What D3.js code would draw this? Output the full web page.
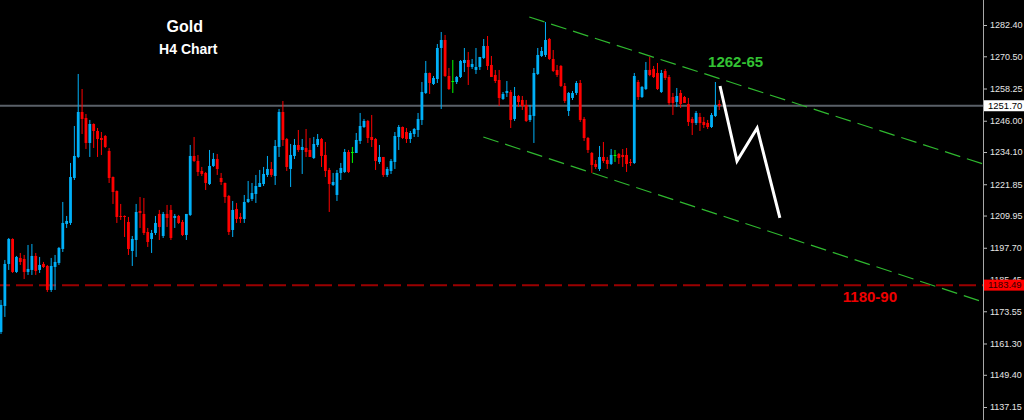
<!DOCTYPE html>
<html><head><meta charset="utf-8">
<script src="https://cdn.jsdelivr.net/npm/d3@7"></script>
<style>html,body{margin:0;padding:0;background:#000;overflow:hidden}</style>
</head><body><svg id="c" width="1024" height="420"></svg>
<script>
// ---- data (Gold H4 candles) ----
const opens=[1165.68,1175.57,1191.54,1201.04,1188.50,1193.82,1193.44,1188.50,1189.26,1194.58,
1189.26,1191.54,1190.78,1181.65,1190.40,1191.92,1197.24,1206.75,1207.13,1224.23,
1232.22,1249.33,1247.05,1237.54,1244.76,1242.10,1239.44,1240.20,1234.50,1224.61,
1219.29,1209.79,1209.79,1207.51,1196.48,1200.66,1211.69,1210.55,1203.70,1201.04,
1203.32,1210.55,1202.18,1210.55,1212.07,1209.03,1209.79,1207.51,1202.56,1210.17,
1232.60,1230.70,1226.90,1226.14,1221.95,1228.80,1231.46,1224.23,1222.33,1217.39,
1204.46,1212.45,1209.41,1208.65,1215.11,1216.25,1218.15,1220.81,1221.95,1225.38,
1227.66,1224.99,1236.02,1249.33,1239.06,1227.66,1232.60,1236.78,1234.88,1235.64,
1234.88,1231.84,1236.78,1239.06,1232.98,1227.28,1221.57,1217.77,1226.14,1226.52,
1234.12,1234.12,1233.74,1238.30,1243.62,1245.91,1239.82,1239.06,1230.32,1232.22,
1225.38,1226.90,1230.32,1239.82,1243.62,1241.72,1239.06,1240.96,1242.48,1246.29,
1256.55,1264.16,1259.97,1261.87,1273.66,1276.70,1263.01,1261.11,1260.73,1262.63,
1267.96,1269.10,1266.44,1265.30,1266.44,1269.86,1274.42,1267.20,1263.40,1261.49,
1254.27,1256.55,1256.93,1246.67,1255.41,1253.89,1251.99,1246.29,1247.81,1263.78,
1270.62,1271.00,1277.08,1269.48,1265.30,1266.82,1259.21,1249.71,1254.65,1256.55,
1260.35,1246.67,1239.44,1233.74,1229.56,1227.66,1232.22,1231.08,1229.56,1232.98,
1233.36,1232.98,1232.98,1230.32,1229.94,1260.73,1255.03,1258.07,1265.30,1265.68,
1264.16,1256.93,1264.92,1262.63,1255.03,1253.13,1256.55,1255.03,1252.37,1246.67,
1245.15,1247.43,1245.53,1245.15,1243.62,1247.81,1252.37];
const highs=[1177.85,1193.06,1201.42,1201.30,1194.58,1195.72,1194.96,1198.76,1199.14,1195.72,
1194.20,1192.30,1191.16,1193.82,1194.96,1198.00,1215.11,1209.79,1229.94,1244.00,
1263.78,1258.07,1248.57,1246.29,1245.00,1243.24,1241.72,1240.58,1235.64,1224.80,
1219.50,1214.35,1210.00,1209.41,1202.18,1214.35,1217.01,1216.63,1205.22,1204.46,
1209.79,1212.07,1211.31,1213.97,1213.97,1210.55,1210.17,1208.27,1210.55,1236.78,
1239.82,1232.98,1228.42,1226.52,1234.88,1233.74,1233.36,1226.14,1222.50,1217.77,
1215.49,1214.73,1210.93,1217.77,1223.09,1222.33,1225.38,1227.28,1228.42,1232.60,
1230.32,1238.68,1250.47,1253.51,1239.44,1237.16,1239.06,1242.48,1239.06,1242.86,
1239.44,1239.82,1240.96,1239.44,1237.92,1228.04,1226.14,1227.28,1229.94,1235.26,
1234.88,1236.02,1241.34,1248.95,1246.67,1246.29,1248.19,1239.44,1236.78,1232.22,
1228.42,1231.46,1241.72,1244.38,1243.80,1243.24,1242.10,1243.24,1248.95,1260.73,
1268.72,1264.30,1263.01,1275.18,1279.74,1278.60,1266.06,1269.10,1263.01,1269.10,
1273.66,1272.14,1269.48,1273.66,1270.24,1277.08,1278.22,1270.62,1265.30,1265.30,
1256.93,1261.11,1257.69,1258.83,1255.79,1255.41,1253.89,1251.99,1266.06,1273.66,
1274.04,1283.55,1277.46,1272.90,1267.20,1267.20,1260.35,1256.93,1257.31,1261.11,
1261.49,1247.43,1239.82,1234.12,1231.08,1236.40,1237.92,1232.22,1235.26,1234.88,
1233.74,1235.26,1235.64,1231.46,1264.16,1261.49,1259.21,1268.34,1270.24,1266.82,
1267.96,1265.30,1265.68,1263.40,1256.55,1258.45,1257.69,1255.41,1254.65,1247.43,
1249.71,1248.95,1247.43,1246.29,1248.95,1260.73,1253.89];
const lows=[1164.92,1171.39,1189.26,1188.12,1188.12,1191.16,1185.83,1187.36,1187.36,1187.36,
1188.12,1190.02,1180.89,1180.89,1181.65,1191.16,1196.10,1205.22,1206.37,1223.47,
1231.80,1240.96,1235.26,1232.22,1235.64,1232.22,1232.98,1235.64,1222.33,1214.35,
1207.13,1208.27,1201.80,1194.96,1190.78,1194.20,1205.22,1202.56,1198.00,1195.72,
1202.56,1200.66,1201.42,1205.60,1200.66,1205.22,1206.75,1202.18,1200.66,1209.79,
1230.32,1224.99,1224.99,1219.67,1221.57,1228.42,1225.38,1221.57,1214.73,1202.56,
1201.80,1207.13,1207.13,1207.13,1214.73,1215.49,1214.73,1220.81,1221.19,1224.61,
1224.61,1221.57,1232.22,1236.40,1226.90,1220.81,1231.46,1234.12,1225.76,1232.22,
1232.22,1231.46,1236.02,1228.42,1224.61,1211.31,1221.19,1215.49,1223.47,1226.14,
1226.14,1229.94,1233.74,1237.16,1243.24,1237.54,1236.02,1227.28,1229.56,1224.61,
1224.61,1225.76,1227.66,1234.88,1239.06,1237.54,1237.54,1239.82,1239.82,1244.38,
1256.17,1256.17,1259.59,1260.35,1250.47,1262.63,1257.69,1256.55,1259.97,1262.25,
1264.54,1259.59,1265.68,1263.78,1265.30,1269.48,1265.30,1262.63,1260.35,1251.61,
1253.89,1255.03,1243.24,1245.91,1251.23,1250.09,1245.53,1245.53,1237.54,1263.40,
1270.24,1270.24,1269.10,1264.54,1262.63,1258.83,1252.75,1247.81,1253.89,1255.79,
1245.53,1238.30,1233.74,1226.14,1227.66,1226.90,1229.94,1227.66,1229.18,1230.32,
1229.56,1228.42,1226.52,1228.80,1229.56,1253.89,1254.65,1257.69,1262.93,1262.25,
1257.69,1256.55,1261.49,1251.99,1248.19,1251.23,1250.85,1252.75,1244.00,1240.58,
1244.38,1242.10,1243.24,1242.86,1243.24,1247.43,1250.09];
const closes=[1175.95,1191.54,1201.04,1188.50,1194.20,1192.30,1188.50,1189.64,1194.58,1188.88,
1191.16,1190.40,1181.65,1190.78,1192.30,1197.62,1207.13,1207.89,1224.61,1232.60,
1249.33,1246.67,1237.54,1244.76,1242.10,1239.06,1238.68,1236.02,1224.23,1218.91,
1209.41,1209.41,1209.41,1197.24,1201.04,1211.31,1210.93,1203.32,1199.90,1203.32,
1207.13,1205.60,1210.55,1209.03,1201.42,1209.79,1207.13,1202.56,1210.55,1232.60,
1230.70,1226.52,1225.76,1222.33,1228.80,1231.46,1227.66,1222.71,1217.01,1203.70,
1212.07,1208.65,1208.65,1215.11,1216.25,1218.53,1221.19,1222.33,1225.76,1227.66,
1225.38,1236.40,1249.33,1238.68,1228.42,1232.98,1236.78,1234.88,1236.02,1234.12,
1232.22,1237.16,1239.06,1232.60,1226.90,1221.95,1222.71,1226.14,1228.04,1234.12,
1226.52,1234.12,1238.68,1244.00,1245.91,1239.44,1238.68,1230.70,1232.22,1225.38,
1227.66,1230.70,1240.20,1243.62,1239.44,1239.06,1241.34,1242.86,1246.67,1256.93,
1264.16,1260.35,1262.25,1273.66,1276.70,1263.01,1258.07,1261.11,1262.63,1268.72,
1269.10,1266.44,1267.58,1266.44,1270.24,1274.42,1266.82,1262.63,1261.11,1254.65,
1256.17,1257.31,1246.29,1255.41,1253.13,1251.61,1245.91,1248.19,1264.16,1271.00,
1272.52,1276.70,1269.48,1264.92,1263.40,1259.21,1253.51,1256.55,1256.55,1260.35,
1246.29,1239.44,1234.88,1229.18,1228.42,1232.22,1230.70,1229.56,1232.98,1232.98,
1231.84,1232.22,1229.56,1229.94,1263.01,1255.03,1258.83,1265.30,1263.40,1262.63,
1258.07,1264.16,1262.25,1252.75,1252.75,1255.41,1252.37,1252.75,1245.53,1245.15,
1248.95,1245.15,1244.38,1243.62,1248.19,1251.99,1251.70];

const yTicks=[1282.40,1270.50,1258.25,1246.00,1234.10,1221.85,1209.95,1197.70,1185.45,1173.55,1161.30,1149.40,1137.15];
const lastPrice=1251.70;
const supportPrice=1183.49;
// channel lines & projected path: [bar index, price]
const upperChannel=[[136.8,1285.45],[254.3,1229.56]];
const lowerChannel=[[124.9,1239.82],[254.3,1177.09]];
const projection=[[186.2,1259.21],[190.6,1230.70],[195.8,1243.24],[201.7,1209.03]];
const titleText="Gold", subtitleText="H4 Chart";
const targetLabel="1262-65", supportLabel="1180-90";
const titlePos=[47.6,1279.74], subtitlePos=[48.5,1271.38];
const targetPos=[183.1,1266.5], supportPos=[218.0,1176.9];

// ---- drawing ----
const W=1024,H=420, axisX=983;
const svg=d3.select("#c");
svg.append("rect").attr("width",W).attr("height",H).attr("fill","#000");

const x=d3.scaleLinear().domain([0,254.3]).range([1,axisX]);
const y=d3.scaleLinear().domain([1137.15,1282.40]).range([407,25]);

const bars=opens.map((o,i)=>({i,o,h:highs[i],l:lows[i],c:closes[i]}));
const col=d=> d.c>d.o ? "#00b0f8" : (d.c<d.o ? "#ff0000" : "#00ff00");

const g=svg.append("g");
// horizontal price line
g.append("line").attr("x1",0).attr("x2",axisX).attr("y1",y(lastPrice)).attr("y2",y(lastPrice))
 .attr("stroke","#5a6068").attr("stroke-width",2);
// support dashed line
g.append("line").attr("x1",0).attr("x2",axisX).attr("y1",y(supportPrice)).attr("y2",y(supportPrice))
 .attr("stroke","#9a0000").attr("stroke-width",2).attr("stroke-dasharray","17,6").attr("stroke-dashoffset",7);

const line=d3.line().x(d=>x(d[0])).y(d=>y(d[1]));
[upperChannel,lowerChannel].forEach(ch=>{
  g.append("path").attr("d",line(ch)).attr("fill","none").attr("stroke","#2fb82f")
   .attr("stroke-width",1.2).attr("stroke-dasharray","16,7");
});

// candles
const cg=g.append("g");
cg.selectAll("line.w").data(bars).join("line").attr("class","w")
  .attr("x1",d=>x(d.i)).attr("x2",d=>x(d.i)).attr("y1",d=>y(d.h)).attr("y2",d=>y(d.l))
  .attr("stroke",col).attr("stroke-width",1);
cg.selectAll("rect.b").data(bars).join("rect").attr("class","b")
  .attr("x",d=>x(d.i)-1.4).attr("width",2.8)
  .attr("y",d=>y(Math.max(d.o,d.c))).attr("height",d=>Math.max(1,Math.abs(y(d.o)-y(d.c))))
  .attr("fill",col);

// projection zigzag
g.append("path").attr("d",line(projection)).attr("fill","none").attr("stroke","#fff")
 .attr("stroke-width",3).attr("stroke-linejoin","miter");

// texts
const font="'Liberation Sans', Arial, sans-serif";
g.append("text").attr("x",x(titlePos[0])).attr("y",y(titlePos[1])).attr("text-anchor","middle")
 .attr("fill","#fff").attr("font-family",font).attr("font-weight","bold").attr("font-size",16).text(titleText);
g.append("text").attr("x",x(subtitlePos[0])).attr("y",y(subtitlePos[1])).attr("text-anchor","middle")
 .attr("fill","#fff").attr("font-family",font).attr("font-weight","bold").attr("font-size",14).text(subtitleText);
g.append("text").attr("x",x(targetPos[0])).attr("y",y(targetPos[1]))
 .attr("fill","#33c233").attr("font-family",font).attr("font-weight","bold").attr("font-size",15).text(targetLabel);
g.append("text").attr("x",x(supportPos[0])).attr("y",y(supportPos[1]))
 .attr("fill","#ee0000").attr("font-family",font).attr("font-weight","bold").attr("font-size",15).text(supportLabel);

// right axis
const ax=svg.append("g").attr("transform",`translate(${axisX},0)`)
 .call(d3.axisRight(y).tickValues(yTicks).tickSize(4).tickPadding(3).tickFormat(d=>d.toFixed(2)));
ax.select(".domain").remove();
ax.selectAll(".tick line").attr("stroke","#bbb");
ax.selectAll(".tick text").attr("fill","#e6e6e6").attr("font-family",font).attr("font-size",9);
svg.append("line").attr("x1",axisX+0.5).attr("x2",axisX+0.5).attr("y1",0).attr("y2",H).attr("stroke","#a8a8a8").attr("stroke-width",1);

// price boxes
function box(price,bg,fg){
  const yy=y(price);
  svg.append("rect").attr("x",axisX+1).attr("y",yy-5.5).attr("width",W-axisX-1).attr("height",11).attr("fill",bg);
  svg.append("text").attr("x",axisX+5).attr("y",yy).attr("dy","0.35em").attr("fill",fg)
   .attr("font-family",font).attr("font-size",9.5).text(price.toFixed(2));
}
box(lastPrice,"#fff","#000");
box(supportPrice,"#ff0000","#300");
</script></body></html>
